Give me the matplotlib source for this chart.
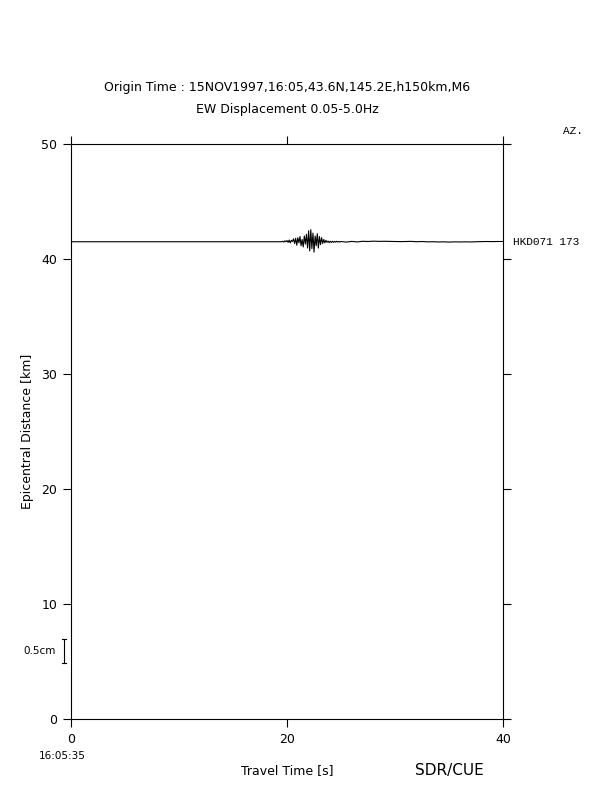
import numpy as np
import matplotlib
matplotlib.use('Agg')
import matplotlib.pyplot as plt

plt.rcParams['font.family'] = ['DejaVu Sans']

# trace: station, epicentral distance [km], azimuth
station = 'HKD071'
azimuth = '173'
distance = 41.5

# waveform samples (time [s], relative displacement in plot units)
t_lead = [0.0, 19.4]
a_lead = [0.0, 0.0]

t_main = [19.5, 19.6, 19.7, 19.8, 19.9, 20.0, 20.1, 20.2, 20.3, 20.4,
          20.5, 20.6, 20.7, 20.8, 20.9, 21.0, 21.1, 21.2, 21.3, 21.4,
          21.5, 21.6, 21.7, 21.8, 21.9, 22.0, 22.1, 22.2, 22.3, 22.4,
          22.5, 22.6, 22.7, 22.8, 22.9, 23.0, 23.1, 23.2, 23.3, 23.4,
          23.5, 23.6, 23.7, 23.8, 23.9, 24.0, 24.1, 24.2, 24.3, 24.4,
          24.5, 24.6, 24.7, 24.8, 24.9, 25.0]
a_main = [0.0, 0.04, -0.03, 0.08, 0.0, 0.1, -0.06, 0.15, -0.1, 0.12,
          0.02, 0.25, -0.15, 0.3, -0.3, 0.35, -0.1, 0.45, -0.35, 0.2,
          -0.45, 0.5, -0.2, 0.65, -0.55, 0.95, -0.8, 1.05, -0.6, 0.75,
          -0.9, 0.5, -0.35, 0.7, -0.55, 0.45, -0.25, 0.35, -0.15, 0.2,
          -0.1, 0.12, -0.05, 0.06, -0.08, 0.04, -0.06, 0.04, -0.05, 0.03,
          -0.04, 0.04, -0.03, 0.03, -0.03, 0.02]

t_coda = [25.5, 26.0, 26.5, 27.0, 27.5, 28.0, 28.5, 29.0, 29.5, 30.0,
          30.5, 31.0, 31.5, 32.0, 32.5, 33.0, 33.5, 34.0, 34.5, 35.0,
          35.5, 36.0, 36.5, 37.0, 37.5, 38.0, 38.5, 39.0, 39.5, 40.0]
a_coda = [-0.03, 0.03, -0.02, 0.04, 0.02, 0.05, 0.03, 0.04, 0.03, 0.02,
          0.01, 0.02, 0.03, 0.0, 0.02, -0.01, 0.0, -0.02, -0.01, -0.03,
          -0.01, -0.02, -0.01, -0.02, 0.0, 0.01, 0.02, 0.01, 0.02, 0.02]

x_ticks = [0, 20, 40]
y_ticks = [0, 10, 20, 30, 40, 50]

title1 = 'Origin Time : 15NOV1997,16:05,43.6N,145.2E,h150km,M6'
title2 = 'EW Displacement 0.05-5.0Hz'

t = np.array(t_lead + t_main + t_coda)
a = np.array(a_lead + a_main + a_coda)

fig = plt.figure(figsize=(6.12, 7.92), dpi=100)
ax = fig.add_axes([0.116, 0.0922, 0.706, 0.726])

ax.plot(t, distance + a, color='black', lw=0.8)

ax.set_xlim(0, 40)
ax.set_ylim(0, 50)
ax.set_xticks(x_ticks)
ax.set_yticks(y_ticks)
ax.tick_params(direction='out', length=6, width=0.8, labelsize=9,
               top=True, right=True, labelright=False, labeltop=False, pad=4)
for sp in ax.spines.values():
    sp.set_linewidth(0.8)

ax.set_xlabel('Travel Time [s]', fontsize=9, labelpad=13)
ax.set_ylabel('Epicentral Distance [km]', fontsize=9, labelpad=5)

# station label at right
ax.text(40.9, distance, f'{station} {azimuth}', fontsize=8,
        family='Liberation Mono', va='center', ha='left')
fig.text(0.92, 0.835, 'AZ.', fontsize=8, family='Liberation Mono',
         va='center', ha='left')

fig.text(0.469, 0.889, title1, fontsize=9, ha='center', va='center')
fig.text(0.469, 0.862, title2, fontsize=9, ha='center', va='center')

fig.text(0.101, 0.045, '16:05:35', fontsize=7.5, ha='center', va='center')
fig.text(0.735, 0.027, 'SDR/CUE', fontsize=11, ha='center', va='center')

# amplitude scale bar (0.5 cm)
bar_x = -0.65
bar_lo, bar_hi = 4.87, 6.96
ax.plot([bar_x, bar_x], [bar_lo, bar_hi], color='black', lw=0.8, clip_on=False)
ax.plot([bar_x - 0.18, bar_x + 0.18], [bar_lo, bar_lo], color='black', lw=0.8, clip_on=False)
ax.plot([bar_x - 0.18, bar_x + 0.18], [bar_hi, bar_hi], color='black', lw=0.8, clip_on=False)
ax.text(bar_x - 0.8, (bar_lo + bar_hi) / 2, '0.5cm', fontsize=7.5,
        ha='right', va='center')

fig.savefig('out.png', dpi=100)
